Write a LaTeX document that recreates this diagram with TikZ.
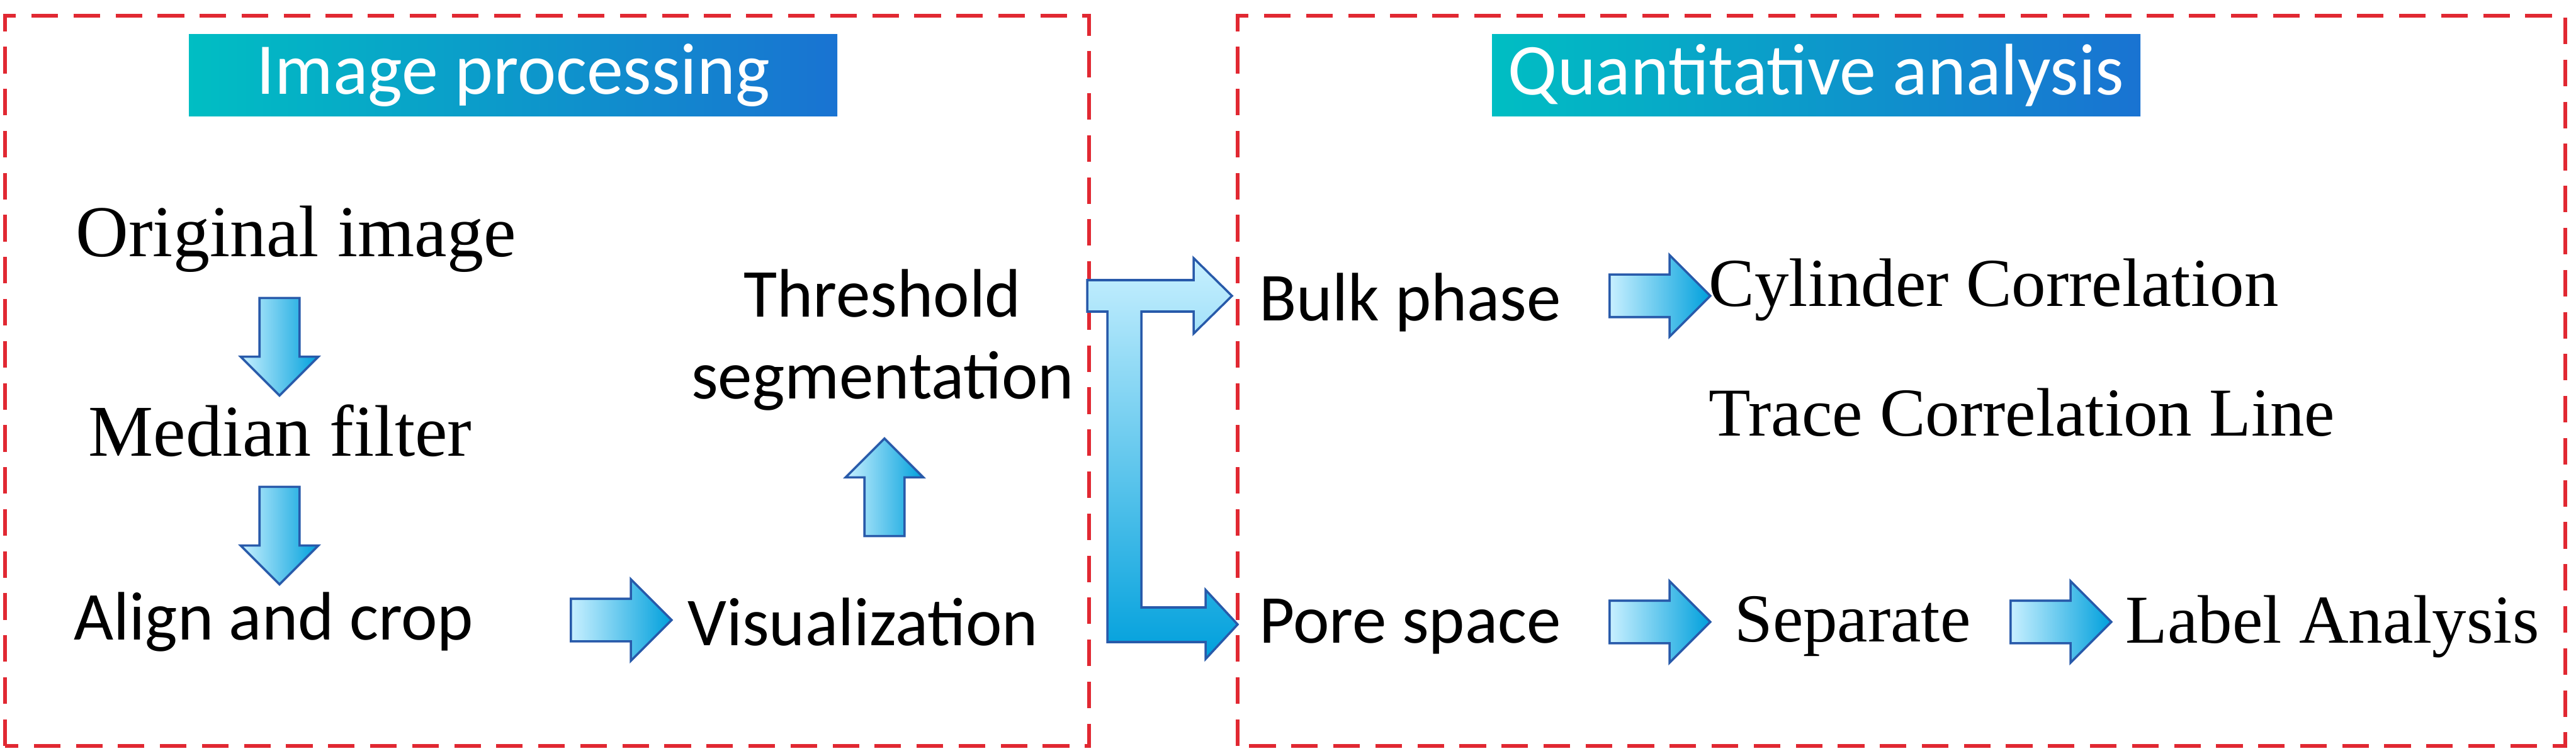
\documentclass[tikz,border=0pt]{standalone}
\usepackage{fontspec}
\setmainfont{Liberation Serif}
\newfontfamily\calib{Carlito}
\usetikzlibrary{shapes.arrows}
\definecolor{frameRed}{RGB}{225,40,50}
\definecolor{headL}{RGB}{0,190,195}
\definecolor{headR}{RGB}{25,115,210}
\definecolor{arrL}{RGB}{200,240,255}
\definecolor{arrR}{RGB}{0,160,220}
\definecolor{arrD}{RGB}{40,90,170}
\tikzset{
  serif/.style={font=\fontsize{31}{37}\selectfont},
  sans/.style={font=\calib\fontsize{31}{37}\selectfont},
  header/.style={minimum width=10.3cm,minimum height=1.3cm,left color=headL,right color=headR,
    text=white,font=\calib\fontsize{33}{40}\selectfont},
  frame/.style={draw=frameRed,line width=1.5pt,dash pattern=on 12pt off 7pt},
  barrow/.style={single arrow,draw=arrD,line width=1pt,left color=arrL,right color=arrR,
    minimum height=1.6cm,inner xsep=0pt,inner ysep=0.32cm,single arrow head extend=0.31cm},
  varrow/.style={barrow,minimum height=1.55cm,inner ysep=0.3cm,single arrow head extend=0.3cm},
}
\begin{document}
\begin{tikzpicture}
    \useasboundingbox (0,0) rectangle (40.92,12);
    \draw[frame] (0.08,0.15) rectangle (17.3,11.75);
    \draw[frame] (19.66,0.15) rectangle (40.75,11.75);
    \node[header] (hip) at (8.15,10.8) {Image processing};
    \node[header] (hqa) at (28.85,10.8) {Quantitative analysis};
    % image processing
    \node[serif,font=\fontsize{33}{40}\selectfont] (orig) at (4.7,8.2) {Original image};
    \node[serif,font=\fontsize{33}{40}\selectfont] (med) at (4.45,5.16) {Median filter};
    \node[sans] (align) at (4.35,2.12) {Align and crop};
    \node[sans] (vis) at (13.71,2.12) {Visualization};
    \node[sans,align=center] (thr) at (14.02,6.6) {Threshold\\segmentation};
    \node[varrow,rotate=-90] (a1) at (4.44,6.65) {};
    \node[varrow,rotate=-90] (a2) at (4.44,3.65) {};
    \node[barrow] (a3) at (9.7,2.15) {};
    \node[varrow,rotate=90] (a4) at (14.05,4.1) {};
    % bent arrow
    \path[draw=arrD,line width=1pt,top color=arrL,bottom color=arrR]
      (17.27,7.55) -- (18.96,7.55) -- (18.96,7.9) -- (19.57,7.3) -- (18.96,6.7) -- (18.96,7.05)
      -- (18.13,7.05) -- (18.13,2.35) -- (19.15,2.35) -- (19.15,2.63) -- (19.66,2.08) -- (19.15,1.53)
      -- (19.15,1.8) -- (17.59,1.8) -- (17.59,7.05) -- (17.27,7.05) -- cycle;
    % quantitative analysis
    \node[sans] (bulk) at (22.4,7.2) {Bulk phase};
    \node[barrow] (a5) at (26.2,7.3) {};
    \node[serif] (cyl) at (31.67,7.4) {Cylinder Correlation};
    \node[serif] (trace) at (32.12,5.45) {Trace Correlation Line};
    \node[sans] (pore) at (22.4,2.05) {Pore space};
    \node[barrow] (a6) at (26.2,2.12) {};
    \node[serif] (sep) at (29.43,2.05) {Separate};
    \node[barrow] (a7) at (32.57,2.12) {};
    \node[serif] (lab) at (37.05,2.05) {Label Analysis};
\end{tikzpicture}
\end{document}
